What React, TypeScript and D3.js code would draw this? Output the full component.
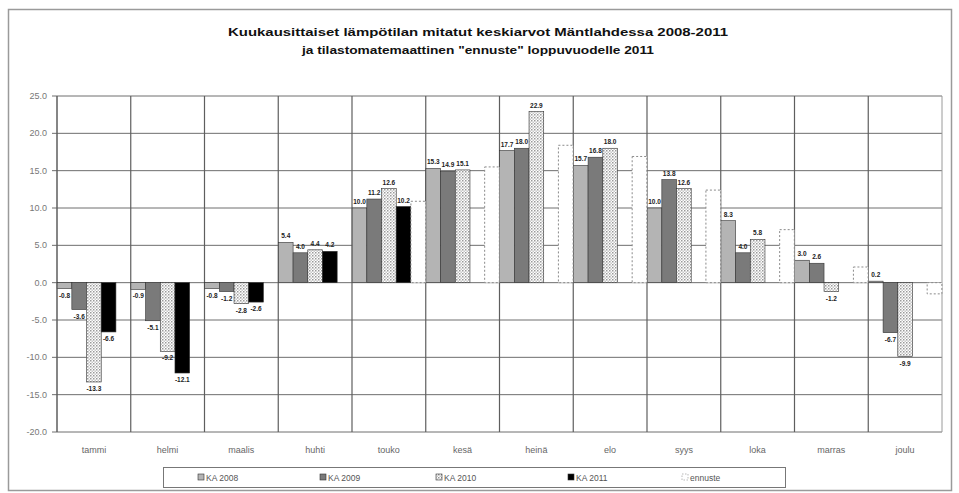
import React from "react";
import * as d3 from "d3";

const months = ["tammi", "helmi", "maalis", "huhti", "touko", "kesä", "heinä", "elo", "syys", "loka", "marras", "joulu"];
const ka2008 = [-0.8, -0.9, -0.8, 5.4, 10.0, 15.3, 17.7, 15.7, 10.0, 8.3, 3.0, 0.2];
const ka2009 = [-3.6, -5.1, -1.2, 4.0, 11.2, 14.9, 18.0, 16.8, 13.8, 4.0, 2.6, -6.7];
const ka2010 = [-13.3, -9.2, -2.8, 4.4, 12.6, 15.1, 22.9, 18.0, 12.6, 5.8, -1.2, -9.9];
const ka2011 = [-6.6, -12.1, -2.6, 4.2, 10.2, null, null, null, null, null, null, null];
const ennuste = [null, null, null, null, 10.9, 15.5, 18.4, 16.9, 12.4, 7.1, 2.1, -1.5];
const seriesNames = ["KA 2008", "KA 2009", "KA 2010", "KA 2011", "ennuste"];
const yTicks = [25, 20, 15, 10, 5, 0, -5, -10, -15, -20];
const titleLines = [
  "Kuukausittaiset lämpötilan mitatut keskiarvot Mäntlahdessa 2008-2011",
  "ja tilastomatemaattinen \"ennuste\" loppuvuodelle 2011",
];

const W = 959, H = 493;
const plot = { left: 57, right: 942, top: 96, bottom: 432 };

export default function App() {
  const x = d3.scaleBand<string>().domain(months).range([plot.left, plot.right]).paddingInner(0).paddingOuter(0);
  const xs = d3.scaleBand<string>().domain(seriesNames).range([0, x.bandwidth()]).paddingInner(0).paddingOuter(0.01);
  const y = d3.scaleLinear().domain([-20, 25]).range([plot.bottom, plot.top]);
  const all = [ka2008, ka2009, ka2010, ka2011, ennuste];
  const fills = ["#b4b4b4", "#7a7a7a", "url(#dots)", "#000000", "#ffffff"];
  const font = "Liberation Sans, Arial, sans-serif";
  const fmt = (v: number) => d3.format(".1f")(v).replace("\u2212", "-");

  const legendX = [198, 320, 436, 568, 682];
  const titleWidths = [500, 352];

  return (
    <svg width={W} height={H} style={{ position: "absolute", left: 0, top: 0, background: "#fff" }} fontFamily={font}>
      <defs>
        <pattern id="dots" width="3" height="3" patternUnits="userSpaceOnUse">
          <rect width="3" height="3" fill="#ffffff" />
          <rect x="0" y="0" width="1.5" height="1.5" fill="#9a9a9a" />
          <rect x="1.5" y="1.5" width="1.5" height="1.5" fill="#c8c8c8" />
        </pattern>
      </defs>
      <rect x={8.5} y={9.5} width={943} height={481} fill="#fff" stroke="#9a9a9a" strokeWidth={1.5} />
      {titleLines.map((t, i) => (
        <text key={i} x={478} y={36 + i * 18} textAnchor="middle" fontSize={11.5} fontWeight="bold" fill="#111"
          textLength={titleWidths[i]} lengthAdjust="spacingAndGlyphs">{t}</text>
      ))}
      {/* horizontal gridlines */}
      {yTicks.map((t) => (
        <g key={t}>
          <line x1={plot.left} x2={plot.right} y1={y(t)} y2={y(t)} stroke="#6e6e6e" strokeWidth={1} />
          <line x1={plot.left - 5} x2={plot.left} y1={y(t)} y2={y(t)} stroke="#6e6e6e" />
          <text x={plot.left - 10} y={y(t) + 3} textAnchor="end" fontSize={9} fill="#777">{fmt(t)}</text>
        </g>
      ))}
      {/* vertical gridlines */}
      {months.map((m, i) => (
        <line key={m} x1={x(m)!} x2={x(m)!} y1={plot.top} y2={plot.bottom} stroke="#5e5e5e" strokeWidth={i === 0 ? 1.5 : 1.2} />
      ))}
      <line x1={plot.right} x2={plot.right} y1={plot.top} y2={plot.bottom} stroke="#9a9a9a" />
      {/* bars */}
      {all.map((vals, si) =>
        vals.map((v, mi) => {
          if (v === null) return null;
          const bx = x(months[mi])! + xs(seriesNames[si])!;
          const bw = xs.bandwidth();
          const y0 = y(0), y1 = y(v);
          const top = Math.min(y0, y1), h = Math.abs(y1 - y0);
          const isEn = si === 4;
          return (
            <rect key={si + "-" + mi} x={bx} y={top} width={bw} height={h} fill={fills[si]}
              stroke={isEn ? "#8a8a8a" : "#333"} strokeWidth={isEn ? 1 : 0.6} strokeDasharray={isEn ? "2,2" : undefined} />
          );
        })
      )}
      {/* data labels */}
      {all.slice(0, 4).map((vals, si) =>
        vals.map((v, mi) => {
          if (v === null) return null;
          const cx = x(months[mi])! + xs(seriesNames[si])! + xs.bandwidth() / 2;
          const ly = v >= 0 ? y(v) - 4 : y(v) + 9;
          return (
            <text key={"l" + si + "-" + mi} x={cx} y={ly} textAnchor="middle" fontSize={6.5} fontWeight="bold" fill="#222">{fmt(v)}</text>
          );
        })
      )}
      {/* x labels */}
      {months.map((m) => (
        <text key={"x" + m} x={x(m)! + x.bandwidth() / 2} y={453} textAnchor="middle" fontSize={9} fill="#666">{m}</text>
      ))}
      {/* legend */}
      <rect x={163.5} y={467.5} width={622} height={20} fill="#fff" stroke="#777" />
      {seriesNames.map((s, i) => (
        <g key={"lg" + s}>
          <rect x={legendX[i]} y={474} width={6} height={6} fill={fills[i]} stroke={i === 4 ? "#8a8a8a" : "#333"} strokeWidth={0.6} strokeDasharray={i === 4 ? "1.5,1.5" : undefined} />
          <text x={legendX[i] + 8} y={481} fontSize={8.5} fill="#555">{s}</text>
        </g>
      ))}
    </svg>
  );
}
